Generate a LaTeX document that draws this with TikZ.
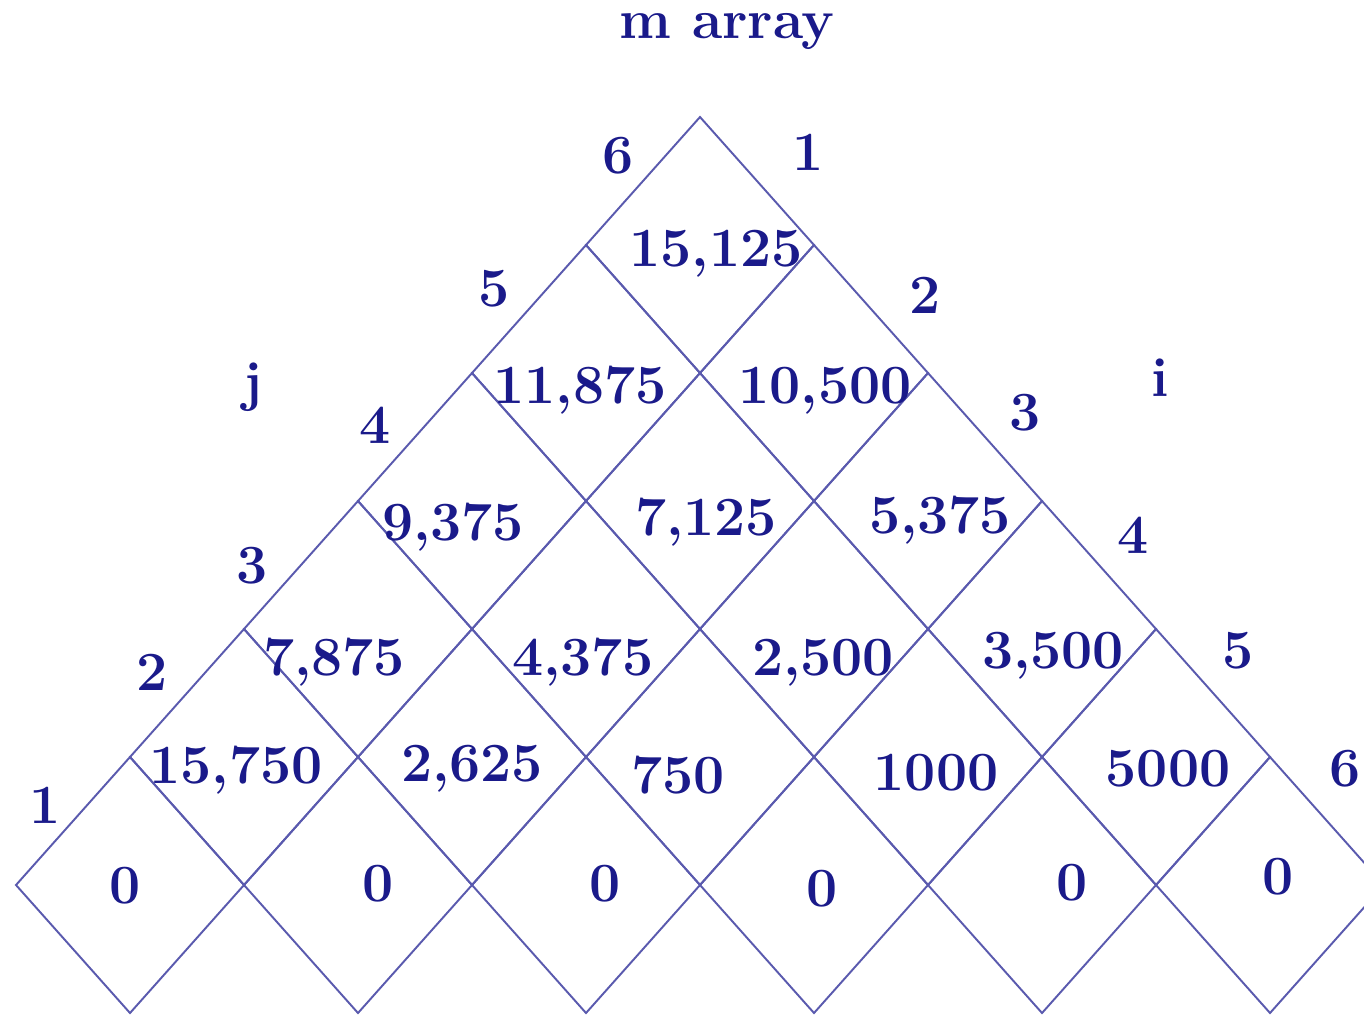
\documentclass[tikz,border=0pt]{standalone}
\usepackage{tikz}
\definecolor{CellLine}{HTML}{5A5AAE}
\definecolor{CellText}{HTML}{1A1A8A}
\tikzset{
    cellval/.style={text=CellText, font=\fontsize{31.5}{36}\selectfont\bfseries, inner sep=0pt, text depth=0pt},
    gridline/.style={draw=CellLine, line width=1.1pt, line join=miter},
}
\begin{document}
\begin{tikzpicture}[x=0.02cm, y=-0.02cm]
    \useasboundingbox (0,0) rectangle (1364,1015);
    \def\hw{114}
    \def\hh{128}
    % title
    \node[cellval] (title) at (727,26) {m array};
    % diamonds of the m array
    \foreach \i in {1,...,6} {
        \foreach \j in {\i,...,6} {
            \pgfmathsetmacro{\cx}{700+(\i+\j-7)*\hw}
            \pgfmathsetmacro{\cy}{885-(\j-\i)*\hh}
            \draw[gridline] (\cx-\hw,\cy) -- (\cx,\cy-\hh) -- (\cx+\hw,\cy) -- (\cx,\cy+\hh) -- cycle;
        }
    }
    % values, i/j/x/y/value
    \foreach \i/\j/\x/\y/\v in {1/1/125/885/0, 2/2/378/883/0, 3/3/605/883/0,
        4/4/822/888/0, 5/5/1072/882/0, 6/6/1278/876/0,
        1/2/236/765/{15,750}, 2/3/472/763/{2,625}, 3/4/678/775/750,
        4/5/936/772/1000, 5/6/1168/768/5000,
        1/3/334/657/{7,875}, 2/4/583/657/{4,375}, 3/5/823/657/{2,500}, 4/6/1053/650/{3,500},
        1/4/453/522/{9,375}, 2/5/706/517/{7,125}, 3/6/940/515/{5,375},
        1/5/580/385/{11,875}, 2/6/825/385/{10,500},
        1/6/716/248/{15,125}}
        \node[cellval] (m-\i-\j) at (\x,\y) {\v};
    % index labels along the sides
    \node[cellval] (jname) at (253,382) {j};
    \node[cellval] (iname) at (1160,378) {i};
    \foreach \k/\x/\y in {1/45/805, 2/152/672, 3/252/565, 4/375/425, 5/494/288, 6/618/155}
        \node[cellval] (j-\k) at (\x,\y) {\k};
    \foreach \k/\x/\y in {1/808/152, 2/925/295, 3/1025/412, 4/1133/535, 5/1238/650, 6/1345/768}
        \node[cellval] (i-\k) at (\x,\y) {\k};
\end{tikzpicture}
\end{document}
